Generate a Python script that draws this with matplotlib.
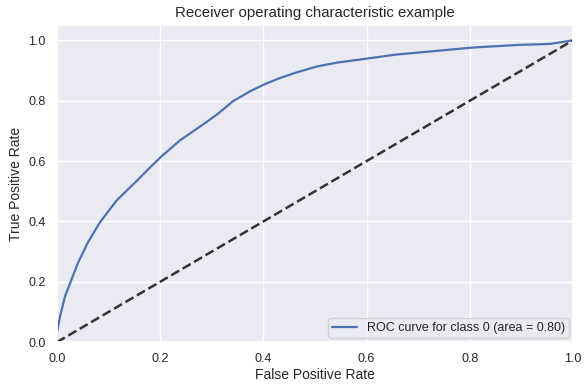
import matplotlib
matplotlib.use("Agg")
import matplotlib.pyplot as plt
import seaborn as sns

sns.set_theme(style="darkgrid")
plt.rcParams['font.family'] = ['Liberation Sans', 'DejaVu Sans']

# ROC curve
fpr = [0.0, 0.0, 0.0064, 0.016, 0.026, 0.041, 0.06, 0.083, 0.116, 0.151, 0.183,
       0.203, 0.238, 0.283, 0.31, 0.341, 0.374, 0.403, 0.432, 0.465, 0.503,
       0.542, 0.603, 0.658, 0.736, 0.805, 0.897, 0.955, 1.0]
tpr = [0.0, 0.03, 0.087, 0.153, 0.197, 0.263, 0.33, 0.396, 0.47, 0.528, 0.583,
       0.616, 0.668, 0.721, 0.754, 0.798, 0.831, 0.855, 0.875, 0.894, 0.913,
       0.926, 0.94, 0.953, 0.965, 0.976, 0.985, 0.988, 1.0]
roc_auc = 0.80
class_id = 0

fig = plt.figure(figsize=(5.86, 3.88), dpi=100)
ax = fig.add_axes([0.097, 0.118, 0.881, 0.817])

ax.plot(fpr, tpr, color='#4c72b0', lw=1.6,
        label='ROC curve for class %d (area = %0.2f)' % (class_id, roc_auc))
ax.plot([0, 1], [0, 1], color='#333333', lw=1.8, linestyle='--')
ax.set_xlim([0.0, 1.0])
ax.set_ylim([0.0, 1.05])
ax.set_xlabel('False Positive Rate', fontsize=10, color='#262626', labelpad=2)
ax.set_ylabel('True Positive Rate', fontsize=10, color='#262626', labelpad=4)
ax.set_title('Receiver operating characteristic example', fontsize=10.8,
             color='#262626', pad=6)
ax.tick_params(labelsize=9, colors='#262626', length=0, pad=8)
ax.legend(loc='lower right', fontsize=9, borderpad=0.3, borderaxespad=0.35)

fig.savefig('out.png', dpi=100)
